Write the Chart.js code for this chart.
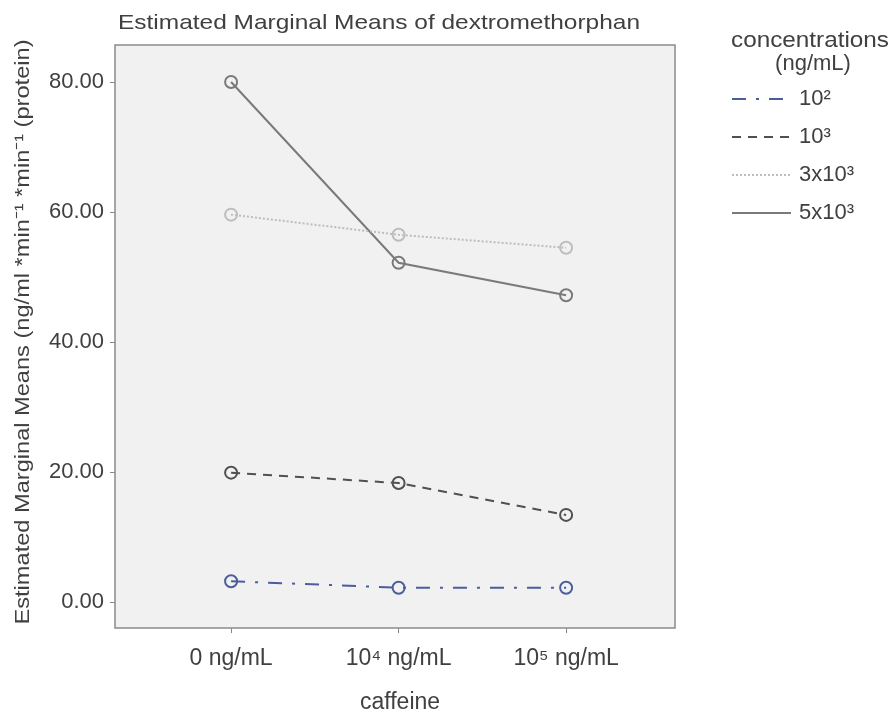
<!DOCTYPE html>
<html>
<head>
<meta charset="utf-8">
<script src="https://cdn.jsdelivr.net/npm/chart.js@4/dist/chart.umd.min.js"></script>
<style>
  html, body { margin: 0; padding: 0; background: #fff; }
  #wrap { width: 892px; height: 717px; }
</style>
</head>
<body>
<div id="wrap"><canvas id="c" width="892" height="717"></canvas></div>
<script>
// ---------- data ----------
const caffeineLabels = ["0 ng/mL", "10\u2074 ng/mL", "10\u2075 ng/mL"];
const seriesNames = ["10\u00b2", "10\u00b3", "3x10\u00b3", "5x10\u00b3"];
const conc1e2 = [3.2, 2.2, 2.2];
const conc1e3 = [19.9, 18.3, 13.4];
const conc3e3 = [59.6, 56.5, 54.5];
const conc5e3 = [80.0, 52.2, 47.2];
const yTicks = [0, 20, 40, 60, 80];

const chartTitle = "Estimated Marginal Means of dextromethorphan";
const yTitle = "Estimated Marginal Means (ng/ml *min\u207b\u00b9 *min\u207b\u00b9 (protein)";
const xTitle = "caffeine";
const legendTitle = ["concentrations", "(ng/mL)"];

const FONT = "'Liberation Sans', Arial, sans-serif";
const TXT = "#404040";

const styles = [
  { color: "#4c5d9c", dash: [14, 10, 3, 10] },
  { color: "#505050", dash: [9, 7] },
  { color: "#bdbdbd", dash: [2, 2] },
  { color: "#7a7a7a", dash: [] },
];
const values = [conc1e2, conc1e3, conc3e3, conc5e3];

const datasets = values.map((vals, i) => ({
  label: seriesNames[i],
  data: vals.map((v, k) => ({ x: k, y: v })),
  borderColor: styles[i].color,
  borderDash: styles[i].dash,
  borderWidth: 2,
  pointRadius: 6,
  pointBorderWidth: 2,
  pointBackgroundColor: "rgba(0,0,0,0)",
  pointBorderColor: styles[i].color,
  fill: false,
  tension: 0,
}));

// text squeezed/stretched to a given length
function fitText(ctx, text, x, y, len, rot) {
  const w = ctx.measureText(text).width;
  ctx.save();
  ctx.translate(x, y);
  if (rot) ctx.rotate(rot);
  ctx.scale(len / w, 1);
  ctx.fillText(text, 0, 0);
  ctx.restore();
}

// ---------- plugins ----------
const frame = {
  id: "frame",
  beforeDraw(chart) {
    const { ctx, chartArea: a } = chart;
    ctx.save();
    ctx.fillStyle = "#f1f1f1";
    ctx.fillRect(a.left, a.top, a.right - a.left, a.bottom - a.top);
    ctx.restore();
  },
  afterDraw(chart) {
    const { ctx, chartArea: a } = chart;
    ctx.save();
    ctx.strokeStyle = "#8a8a8a";
    ctx.lineWidth = 1.5;
    ctx.strokeRect(a.left, a.top, a.right - a.left, a.bottom - a.top);

    ctx.fillStyle = TXT;
    ctx.textAlign = "center";
    ctx.textBaseline = "middle";

    // titles
    ctx.font = "21px " + FONT;
    fitText(ctx, chartTitle, 379, 23, 522, 0);
    fitText(ctx, yTitle, 23, 332, 585, -Math.PI / 2);
    ctx.font = "23px " + FONT;
    ctx.fillText(xTitle, 400, 703);

    // legend
    ctx.font = "22px " + FONT;
    fitText(ctx, legendTitle[0], 810, 41, 158, 0);
    ctx.fillText(legendTitle[1], 813, 64);
    ctx.textAlign = "left";
    const rows = [99, 137, 175, 213];
    chart.data.datasets.forEach((ds, i) => {
      const y = rows[i];
      ctx.strokeStyle = ds.borderColor;
      ctx.lineWidth = 2;
      ctx.setLineDash(ds.borderDash);
      ctx.beginPath();
      ctx.moveTo(732, y);
      ctx.lineTo(791, y);
      ctx.stroke();
      ctx.setLineDash([]);
      ctx.fillStyle = TXT;
      ctx.fillText(ds.label, 799, y);
    });
    ctx.restore();
  },
};

new Chart(document.getElementById("c"), {
  type: "line",
  data: { datasets },
  plugins: [frame],
  options: {
    responsive: false,
    animation: false,
    layout: { padding: { top: 45, right: 217, left: 0, bottom: 0 } },
    plugins: { legend: { display: false }, tooltip: { enabled: false } },
    scales: {
      x: {
        type: "linear",
        min: -0.693,
        max: 2.65,
        afterBuildTicks: (s) => { s.ticks = caffeineLabels.map((_, k) => ({ value: k })); },
        afterFit: (s) => { s.height = 89; },
        ticks: {
          callback: (v) => caffeineLabels[v],
          color: TXT,
          font: { family: FONT, size: 23 },
          padding: 12,
          maxRotation: 0,
        },
        grid: { drawOnChartArea: false, drawTicks: true, tickLength: 5, color: "#888" },
        border: { display: false },
      },
      y: {
        min: -4,
        max: 85.7,
        afterBuildTicks: (s) => { s.ticks = yTicks.map((v) => ({ value: v })); },
        afterFit: (s) => { s.width = 115; },
        ticks: {
          callback: (v) => v.toFixed(2),
          color: TXT,
          font: { family: FONT, size: 22 },
          padding: 6,
        },
        grid: { drawOnChartArea: false, drawTicks: true, tickLength: 5, color: "#888" },
        border: { display: false },
      },
    },
  },
});
</script>
</body>
</html>
